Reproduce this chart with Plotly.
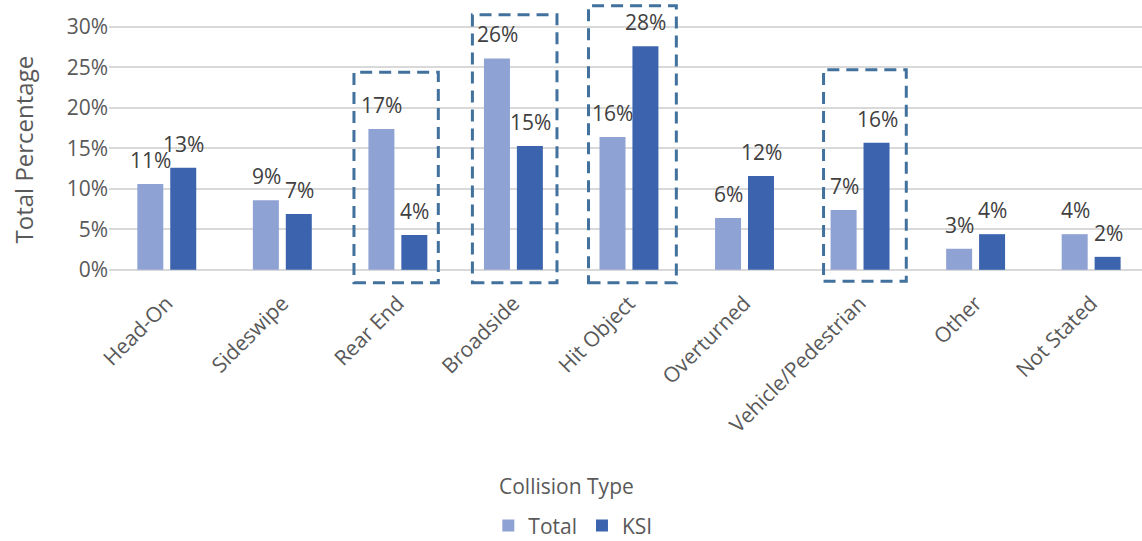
import plotly.graph_objects as go

categories = ["Head-On", "Sideswipe", "Rear End", "Broadside", "Hit Object",
              "Overturned", "Vehicle/Pedestrian", "Other", "Not Stated"]
total_pct = [10.6, 8.6, 17.4, 26.1, 16.4, 6.4, 7.4, 2.6, 4.4]
ksi_pct = [12.6, 6.9, 4.3, 15.3, 27.6, 11.6, 15.7, 4.4, 1.6]
y_ticks = [0, 5, 10, 15, 20, 25, 30]
y_tick_labels = [f"{v}%" for v in y_ticks]
highlighted = ["Rear End", "Broadside", "Hit Object", "Vehicle/Pedestrian"]

FONT = "'Open Sans', Carlito, Calibri, sans-serif"
C_TOTAL = "#8FA2D4"
C_KSI = "#3C64AE"
C_BOX = "#41719C"
FS = 21

fig = go.Figure()
fig.add_trace(go.Bar(name="Total", x=categories, y=total_pct, marker_color=C_TOTAL,
                     width=0.225, offset=-0.255, marker_line_width=0))
fig.add_trace(go.Bar(name="KSI", x=categories, y=ksi_pct, marker_color=C_KSI,
                     width=0.225, offset=0.030, marker_line_width=0))

annotations = []
for c, t, k in zip(categories, total_pct, ksi_pct):
    annotations.append(dict(x=c, y=t, text=f"{round(t)}%", showarrow=False, xref="x", yref="y",
                            xshift=-16, yshift=24, font=dict(size=FS, color="#404040", family=FONT)))
    annotations.append(dict(x=c, y=k, text=f"{round(k)}%", showarrow=False, xref="x", yref="y",
                            xshift=17, yshift=24, font=dict(size=FS, color="#404040", family=FONT)))

annotations.append(dict(text="Total Percentage", textangle=-90, xref="paper", yref="paper",
                        x=-0.083, y=0.48, xanchor="center", yanchor="middle", showarrow=False,
                        font=dict(size=24, color="#595959", family=FONT)))
annotations.append(dict(text="Collision Type", xref="paper", yref="paper",
                        x=0.443, y=-0.70, xanchor="center", yanchor="middle", showarrow=False,
                        font=dict(size=21, color="#595959", family=FONT)))

# dashed highlight boxes: (left, right, top, bottom) relative to category group
box_specs = {
    "Rear End": (-0.38, 0.35, 24.4, -1.6),
    "Broadside": (-0.355, 0.377, 31.5, -1.6),
    "Hit Object": (-0.35, 0.41, 32.6, -1.6),
    "Vehicle/Pedestrian": (-0.316, 0.40, 24.7, -1.4),
}
shapes = []
for name in highlighted:
    i = categories.index(name)
    l, r, top, bot = box_specs[name]
    shapes.append(dict(type="rect", xref="x", yref="y", x0=i + l, x1=i + r, y0=bot, y1=top,
                       line=dict(color=C_BOX, width=3, dash="12px,7px"), layer="above"))

fig.update_layout(
    width=1142, height=541,
    margin=dict(l=109, r=0, t=1, b=255, autoexpand=False),
    paper_bgcolor="white", plot_bgcolor="white",
    font=dict(family=FONT, size=FS, color="#595959"),
    showlegend=True,
    legend=dict(orientation="h", x=0.449, y=-0.842, xanchor="center", yanchor="middle",
                font=dict(size=21, color="#595959", family=FONT), traceorder="normal"),
    annotations=annotations,
    shapes=shapes,
)
fig.update_xaxes(type="category", range=[-0.5, 8.44], tickangle=-45, showgrid=False,
                 showline=False, ticks="", tickfont=dict(size=FS, color="#595959", family=FONT))
fig.update_yaxes(range=[-2, 33.2], tickvals=y_ticks, ticktext=y_tick_labels, showgrid=True,
                 gridcolor="#D9D9D9", gridwidth=1.5, zeroline=False, showline=False,
                 tickfont=dict(size=FS, color="#595959", family=FONT), ticks="")

fig.write_html("out.html", config={"displayModeBar": False},
               post_script="document.body.style.margin='0';document.body.style.padding='0';")
